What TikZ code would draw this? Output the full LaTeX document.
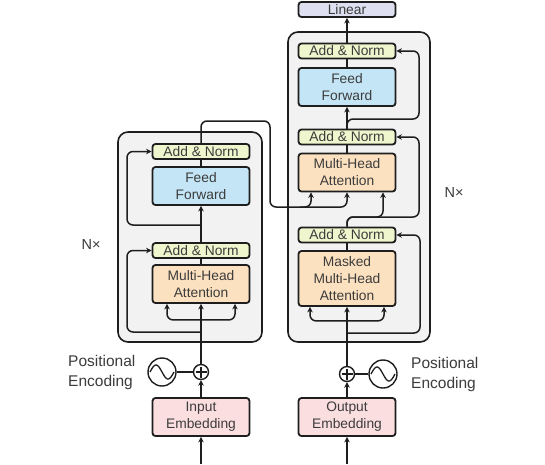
\documentclass[tikz,border=0pt]{standalone}
\usepackage{fontspec}
\setmainfont{Liberation Sans}
\usetikzlibrary{arrows.meta,calc}
\definecolor{addc}{RGB}{239,245,204}
\definecolor{ffc}{RGB}{196,229,245}
\definecolor{mhac}{RGB}{252,225,192}
\definecolor{embc}{RGB}{250,222,224}
\definecolor{linc}{RGB}{222,223,240}
\definecolor{outc}{RGB}{242,242,242}
\definecolor{txt}{RGB}{60,60,60}
\definecolor{edge}{RGB}{30,30,30}
\begin{document}
\begin{tikzpicture}[x=1pt,y=-1pt,
  blk/.style={draw=edge, line width=1.8pt, rounded corners=3pt, minimum width=97pt,
    align=center, font=\fontsize{13.8}{17}\selectfont, text=txt, inner sep=0pt},
  an/.style={blk, fill=addc, minimum height=15pt},
  big/.style={blk, minimum height=38pt},
  outer/.style={draw=edge, line width=1.6pt, fill=outc, rounded corners=10pt, inner sep=0pt},
  wire/.style={draw=edge, line width=1.5pt, rounded corners=6pt},
  arr/.style={wire, -{Stealth[length=5.5pt,width=5.5pt]}},
  darr/.style={wire, {Stealth[length=5.5pt,width=5.5pt]}-{Stealth[length=5.5pt,width=5.5pt]}},
  pls/.style={circle, draw=edge, line width=1.4pt, minimum size=15pt, inner sep=0pt, fill=white},
  sine/.style={circle, draw=edge, line width=1.4pt, minimum size=28pt, inner sep=0pt, fill=white},
  lbl/.style={font=\fontsize{15.5}{20}\selectfont, text=txt, align=left, inner sep=0pt},
]
\useasboundingbox (0,0) rectangle (545,464);
\fill[white] (0,0) rectangle (545,464);

% outer boxes
\node[outer, minimum width=144pt, minimum height=210pt] (encbox) at (190,237) {};
\node[outer, minimum width=142pt, minimum height=310pt] (decbox) at (359,187) {};

% encoder
\node[an] (ean2) at (201,151.5) {Add \& Norm};
\node[big, fill=ffc] (eff) at (201,186) {Feed\\Forward};
\node[an] (ean1) at (201,250.5) {Add \& Norm};
\node[big, fill=mhac] (emha) at (201,284) {Multi-Head\\Attention};
\node[big, fill=embc] (einp) at (201,417) {Input\\Embedding};
\node[pls] (eplus) at (201,372) {};
\node[sine] (esin) at (162,372) {};

% decoder
\node[blk, fill=linc, minimum height=15pt] (lin) at (347,9.5) {Linear};
\node[an] (dan3) at (347,51) {Add \& Norm};
\node[big, fill=ffc] (dff) at (347,87) {Feed\\Forward};
\node[an] (dan2) at (347,137) {Add \& Norm};
\node[big, fill=mhac] (dmha2) at (347,172.5) {Multi-Head\\Attention};
\node[an] (dan1) at (347,235) {Add \& Norm};
\node[blk, fill=mhac, minimum height=55pt] (dmha1) at (347,278.5) {Masked\\Multi-Head\\Attention};
\node[big, fill=embc] (dout) at (347,417) {Output\\Embedding};
\node[pls] (dplus) at (347,374) {};
\node[sine] (dsin) at (383,374) {};

% plus signs and sine waves
\foreach \p in {eplus,dplus}{
  \draw[line width=1.2pt, edge] ($(\p)+(-5.5,0)$) -- ($(\p)+(5.5,0)$);
  \draw[line width=1.2pt, edge] ($(\p)+(0,-5.5)$) -- ($(\p)+(0,5.5)$);
}
\draw[line width=1.3pt, edge] plot[domain=-12:12, samples=40, variable=\t] ({162+\t},{372+7*sin(\t*15)});
\draw[line width=1.3pt, edge] plot[domain=-12:12, samples=40, variable=\t] ({383+\t},{374+7*sin(\t*15)});

% labels
\node[lbl, anchor=west] (epe) at (68,372) {Positional\\Encoding};
\node[lbl, anchor=west] (dpe) at (411,374) {Positional\\Encoding};
\node[font=\fontsize{14.5}{16}\selectfont, text=txt] (enx) at (91,245) {N×};
\node[font=\fontsize{14.5}{16}\selectfont, text=txt] (dnx) at (454,193) {N×};

% encoder wiring
\coordinate (ein) at (201,464);
\draw[arr] (ein) -- (einp.south);
\draw[arr] (einp.north) -- (eplus.south);
\draw[wire] (esin.east) -- (eplus.west);
\draw[arr] (eplus.north) -- (emha.south);
\draw[darr] ($(emha.south)+(-34,0)$) -- ($(emha.south)+(-34,16)$) -- ($(emha.south)+(34,16)$) -- ($(emha.south)+(34,0)$);
\coordinate (er1) at (201,332);
\draw[arr] (er1) -- (127,332) |- (ean1.west);
\draw[arr] (ean1.north) -- (eff.south);
\coordinate (er2) at (201,225);
\draw[arr] (er2) -- (127,225) |- (ean2.west);
\draw[wire] (ean2.south) -- (eff.north);
\draw[wire] (ean1.south) -- (emha.north);

% encoder output to decoder
\draw[arr] (ean2.north) |- (270,121) |- (347,207) -- (dmha2.south);
\draw[arr] (300,207) -| ($(dmha2.south)+(-36,0)$);

% decoder wiring
\coordinate (din) at (347,464);
\draw[arr] (din) -- (dout.south);
\draw[arr] (dout.north) -- (dplus.south);
\draw[wire] (dplus.east) -- (dsin.west);
\draw[arr] (dplus.north) -- (dmha1.south);
\draw[darr] ($(dmha1.south)+(-37,0)$) -- ($(dmha1.south)+(-37,14)$) -- ($(dmha1.south)+(37,14)$) -- ($(dmha1.south)+(37,0)$);
\coordinate (dr1) at (347,333);
\draw[arr] (dr1) -- (420,333) |- (dan1.east);
\draw[wire] (dan1.south) -- (dmha1.north);
\draw[arr] (dan1.north) |- (383,217) -- ($(dmha2.south)+(36,0)$);
\draw[arr] (dan1.north) |- (419,217) |- (dan2.east);
\draw[wire] (dan2.south) -- (dmha2.north);
\draw[arr] (dan2.north) -- (dff.south);
\draw[arr] (dan2.north) |- (419,119) |- (dan3.east);
\draw[wire] (dan3.south) -- (dff.north);
\draw[arr] (dan3.north) -- (lin.south);
\end{tikzpicture}
\end{document}
